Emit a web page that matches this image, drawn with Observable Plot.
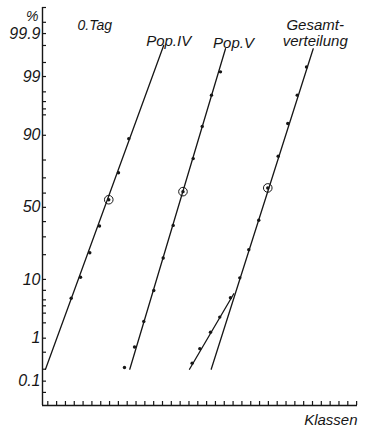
<!DOCTYPE html>
<html>
<head>
<meta charset="utf-8">
<script src="https://cdn.jsdelivr.net/npm/d3@7"></script>
<script src="https://cdn.jsdelivr.net/npm/@observablehq/plot@0.6"></script>
<style>
  html, body { margin: 0; padding: 0; background: #fff; }
  #chart svg { display: block; }
</style>
</head>
<body>
<div id="chart"></div>
<script>
// Cumulative frequency (%) against size class, on normal probability paper.

// Pop. IV: observed points and fitted line
const popIVClass   = [2.65, 3.71, 4.76, 5.86, 6.91, 8.01, 9.18];
const popIVPercent = [5.3, 10.7, 21.0, 37.0, 55.4, 73.1, 88.9];
const popIVMarked  = 4; // circled point
const popIVFitClass   = [-0.26, 13.13];
const popIVFitPercent = [0.2, 99.8];

// Pop. V
const popVClass   = [8.69, 9.83, 10.88, 12.01, 13.08, 14.21, 15.32, 16.48, 17.50, 18.55, 19.57];
const popVPercent = [0.22, 0.65, 2.13, 6.98, 18.4, 37.4, 61.0, 80.7, 92.5, 97.7, 99.2];
const popVMarked  = 6;
const popVFitClass   = [9.29, 20.14];
const popVFitPercent = [0.2, 99.76];

// Gesamtverteilung: upper part and lower tail
const totalClass   = [21.76, 22.78, 23.91, 24.93, 26.11, 27.20, 28.27, 29.32];
const totalPercent = [10.5, 22.6, 40.9, 63.5, 81.8, 93.2, 97.7, 99.37];
const totalMarked  = 3;
const totalFitClass   = [18.52, 30.08];
const totalFitPercent = [0.2, 99.76];

const tailClass   = [16.36, 17.23, 18.44, 19.49, 20.70];
const tailPercent = [0.28, 0.60, 1.32, 2.55, 5.40];
const tailFitClass   = [16.06, 21.08];
const tailFitPercent = [0.2, 6.23];

// Axes
const yLabelPercent = [0.1, 1, 10, 50, 90, 99, 99.9];
const yLabelText    = ["0.1", "1", "10", "50", "90", "99", "99.9"];
const yTickPercent  = [0.05, 0.1, 0.2, 0.5, 1, 2, 3, 4, 5, 7, 10, 20, 30, 40, 50, 60, 70, 80,
                       90, 95, 96, 97, 98, 99, 99.5, 99.8, 99.9, 99.95, 99.981];
const yDomainPercent = [0.0213, 99.981];
const xDomain = [-0.6, 35.1];
const xTicks = d3.range(0, 36);

// Inverse of the standard normal CDF (Acklam's rational approximation)
function probit(p) {
  const a = [-3.969683028665376e+01, 2.209460984245205e+02, -2.759285104469687e+02, 1.383577518672690e+02, -3.066479806614716e+01, 2.506628277459239e+00];
  const b = [-5.447609879822406e+01, 1.615858368580409e+02, -1.556989798598866e+02, 6.680131188771972e+01, -1.328068155288572e+01];
  const c = [-7.784894002430293e-03, -3.223964580411365e-01, -2.400758277161838e+00, -2.549732539343734e+00, 4.374664141464968e+00, 2.938163982698783e+00];
  const d = [7.784695709041462e-03, 3.224671290700398e-01, 2.445134137142996e+00, 3.754408661907416e+00];
  const pl = 0.02425, ph = 1 - pl;
  let q, r;
  if (p < pl) {
    q = Math.sqrt(-2 * Math.log(p));
    return (((((c[0]*q+c[1])*q+c[2])*q+c[3])*q+c[4])*q+c[5]) / ((((d[0]*q+d[1])*q+d[2])*q+d[3])*q+1);
  }
  if (p <= ph) {
    q = p - 0.5; r = q * q;
    return (((((a[0]*r+a[1])*r+a[2])*r+a[3])*r+a[4])*r+a[5])*q / (((((b[0]*r+b[1])*r+b[2])*r+b[3])*r+b[4])*r+1);
  }
  q = Math.sqrt(-2 * Math.log(1 - p));
  return -(((((c[0]*q+c[1])*q+c[2])*q+c[3])*q+c[4])*q+c[5]) / ((((d[0]*q+d[1])*q+d[2])*q+d[3])*q+1);
}
const zOf = pct => probit(pct / 100);

const toRows = (series, cls, pct) => cls.map((k, i) => ({series, k, p: pct[i]}));

const points = [
  ...toRows("Pop.IV", popIVClass, popIVPercent),
  ...toRows("Pop.V", popVClass, popVPercent),
  ...toRows("Gesamt", totalClass, totalPercent),
  ...toRows("Tail", tailClass, tailPercent)
];
const marked = [
  {k: popIVClass[popIVMarked], p: popIVPercent[popIVMarked]},
  {k: popVClass[popVMarked], p: popVPercent[popVMarked]},
  {k: totalClass[totalMarked], p: totalPercent[totalMarked]}
];
const fits = [
  ...toRows("Pop.IV", popIVFitClass, popIVFitPercent),
  ...toRows("Pop.V", popVFitClass, popVFitPercent),
  ...toRows("Gesamt", totalFitClass, totalFitPercent),
  ...toRows("Tail", tailFitClass, tailFitPercent)
];
const topOf = (cls, pct) => [{k: cls[cls.length - 1], p: pct[pct.length - 1]}];

const W = 371, H = 432;
const mL = 42, mR = 14, mT = 7, mB = 27;
const frameW = W - mL - mR, frameH = H - mT - mB;
const ink = "#161616";

const labelByZ = new Map(yLabelPercent.map((p, i) => [zOf(p), yLabelText[i]]));

const chart = Plot.plot({
  width: W,
  height: H,
  marginLeft: mL,
  marginRight: mR,
  marginTop: mT,
  marginBottom: mB,
  style: {fontFamily: "'Liberation Sans', Arial, sans-serif", fontStyle: "italic", fontSize: "15px", color: ink, background: "#fff"},
  x: {domain: xDomain, axis: null},
  y: {domain: yDomainPercent.map(zOf), axis: null},
  marks: [
    // axis lines
    Plot.ruleX([xDomain[0]], {stroke: ink, strokeWidth: 1.4}),
    Plot.ruleY([zOf(yDomainPercent[0])], {stroke: ink, strokeWidth: 1.4}),
    // inward tick marks
    Plot.tickY(yTickPercent, {y: zOf, stroke: ink, strokeWidth: 1.2, insetRight: frameW - 4}),
    Plot.tickX(xTicks, {x: d => d, stroke: ink, strokeWidth: 1.2, insetTop: frameH - 4}),
    // y tick labels
    Plot.axisY(yLabelPercent.map(zOf), {
      anchor: "left", tickSize: 0, tickPadding: 2, fontSize: 16,
      tickFormat: v => labelByZ.get(v), label: null
    }),
    // fitted lines
    Plot.line(fits, {x: "k", y: d => zOf(d.p), z: "series", stroke: ink, strokeWidth: 1.3}),
    // observations
    Plot.dot(points, {x: "k", y: d => zOf(d.p), r: 1.7, fill: ink}),
    Plot.dot(marked, {x: "k", y: d => zOf(d.p), r: 4.3, stroke: ink, strokeWidth: 1, fill: "none"}),
    // series labels at the top of each line
    Plot.text(topOf(popIVFitClass, popIVFitPercent), {x: "k", y: d => zOf(d.p), text: () => "Pop.IV", lineAnchor: "bottom", dx: 5, dy: 1, fill: ink}),
    Plot.text(topOf(popVFitClass, popVFitPercent), {x: "k", y: d => zOf(d.p), text: () => "Pop.V", lineAnchor: "bottom", dx: 8, dy: -1, fill: ink}),
    Plot.text(topOf(totalFitClass, totalFitPercent), {x: "k", y: d => zOf(d.p), text: () => "verteilung", lineAnchor: "bottom", dx: 2, dy: -3, fill: ink}),
    Plot.text(topOf(totalFitClass, totalFitPercent), {x: "k", y: d => zOf(d.p), text: () => "Gesamt-", lineAnchor: "bottom", dx: 2, dy: -19, fill: ink}),
    // figure captions
    Plot.text(["0.Tag"], {frameAnchor: "top-left", textAnchor: "start", lineAnchor: "bottom", dx: 35, dy: 22, fontSize: 14, fill: ink}),
    Plot.text(["%"], {frameAnchor: "top-left", textAnchor: "end", lineAnchor: "bottom", dx: -4, dy: 13, fontSize: 14, fill: ink}),
    Plot.text(["Klassen"], {frameAnchor: "bottom-right", textAnchor: "end", lineAnchor: "bottom", dy: 19, fontSize: 15, fill: ink})
  ]
});

document.getElementById("chart").append(chart);
</script>
</body>
</html>
